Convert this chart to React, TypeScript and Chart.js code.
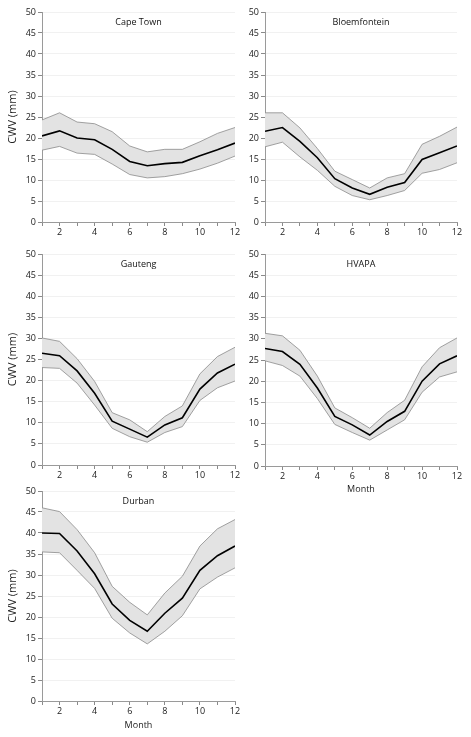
import React, { useEffect, useRef } from "react";
import { Chart, registerables } from "chart.js";

Chart.register(...registerables);

const months = [1, 2, 3, 4, 5, 6, 7, 8, 9, 10, 11, 12];
const yTicks = [0, 5, 10, 15, 20, 25, 30, 35, 40, 45, 50];

const capeTownMean = [20.5, 21.7, 20.0, 19.6, 17.3, 14.4, 13.4, 13.9, 14.2, 15.8, 17.2, 18.8];
const capeTownUpper = [24.3, 26.0, 23.8, 23.4, 21.5, 18.1, 16.7, 17.3, 17.3, 19.1, 21.1, 22.5];
const capeTownLower = [17.1, 18.0, 16.4, 16.1, 13.8, 11.3, 10.5, 10.8, 11.5, 12.6, 14.0, 15.7];

const bloemMean = [21.6, 22.5, 19.2, 15.3, 10.3, 8.1, 6.6, 8.3, 9.4, 14.9, 16.5, 18.1];
const bloemUpper = [26.0, 26.0, 22.4, 17.5, 12.1, 10.1, 8.1, 10.5, 11.5, 18.5, 20.4, 22.6];
const bloemLower = [17.9, 19.0, 15.5, 12.3, 8.5, 6.3, 5.3, 6.3, 7.5, 11.6, 12.5, 14.1];

const gautengMean = [26.5, 25.9, 22.3, 17.0, 10.4, 8.5, 6.6, 9.5, 11.2, 18.0, 21.8, 23.9];
const gautengUpper = [30.1, 29.3, 25.2, 19.8, 12.4, 10.7, 7.9, 11.5, 14.0, 21.6, 25.7, 27.9];
const gautengLower = [23.1, 22.9, 19.4, 14.2, 8.7, 6.7, 5.4, 7.7, 9.1, 15.3, 18.3, 19.9];

const hvapaMean = [27.7, 27.0, 24.0, 18.4, 11.7, 9.7, 7.3, 10.5, 12.9, 20.0, 24.1, 26.0];
const hvapaUpper = [31.3, 30.7, 27.3, 21.2, 13.7, 11.4, 8.9, 12.6, 15.5, 23.4, 27.9, 30.2];
const hvapaLower = [24.8, 23.7, 21.2, 15.9, 9.8, 7.9, 6.1, 8.5, 10.9, 17.4, 21.0, 22.2];

const durbanMean = [40.0, 39.9, 35.7, 30.3, 23.1, 19.2, 16.6, 20.9, 24.5, 31.1, 34.6, 36.9];
const durbanUpper = [46.0, 45.1, 40.8, 35.3, 27.3, 23.5, 20.5, 25.7, 29.7, 36.9, 41.0, 43.2];
const durbanLower = [35.5, 35.3, 31.1, 26.8, 19.7, 16.2, 13.6, 16.6, 20.3, 26.7, 29.5, 31.7];

const FONT = "'Open Sans', 'DejaVu Sans', sans-serif";

type PanelSpec = {
  name: string;
  mean: number[];
  upper: number[];
  lower: number[];
  left: number;
  top: number;
  width: number;
  height: number;
  yw: number;
  xh: number;
  pt: number;
  pr: number;
  showY: boolean;
  showX: boolean;
};

const panels: PanelSpec[] = [
  { name: "Cape Town", mean: capeTownMean, upper: capeTownUpper, lower: capeTownLower,
    left: 0, top: 4, width: 244, height: 236, yw: 42, xh: 18, pt: 8, pr: 9, showY: true, showX: false },
  { name: "Bloemfontein", mean: bloemMean, upper: bloemUpper, lower: bloemLower,
    left: 240, top: 4, width: 225, height: 236, yw: 25, xh: 18, pt: 8, pr: 8, showY: false, showX: false },
  { name: "Gauteng", mean: gautengMean, upper: gautengUpper, lower: gautengLower,
    left: 0, top: 246, width: 244, height: 237, yw: 42, xh: 18, pt: 8, pr: 9, showY: true, showX: false },
  { name: "HVAPA", mean: hvapaMean, upper: hvapaUpper, lower: hvapaLower,
    left: 240, top: 246, width: 225, height: 249, yw: 25, xh: 29, pt: 8, pr: 8, showY: false, showX: true },
  { name: "Durban", mean: durbanMean, upper: durbanUpper, lower: durbanLower,
    left: 0, top: 483, width: 244, height: 248, yw: 42, xh: 30, pt: 8, pr: 9, showY: true, showX: true },
];

function toPoints(arr: number[]) {
  return months.map((m, i) => ({ x: m, y: arr[i] }));
}

function Panel({ spec }: { spec: PanelSpec }) {
  const ref = useRef<HTMLCanvasElement | null>(null);
  useEffect(() => {
    if (!ref.current) return;
    const titlePlugin = {
      id: "panelTitle",
      afterDraw(chart: any) {
        const { ctx, chartArea } = chart;
        ctx.save();
        ctx.font = `9px ${FONT}`;
        ctx.fillStyle = "#111";
        ctx.textAlign = "center";
        ctx.textBaseline = "middle";
        ctx.fillText(spec.name, (chartArea.left + chartArea.right) / 2, chartArea.top + 10);
        ctx.restore();
      },
    };
    const chart = new Chart(ref.current, {
      type: "line",
      data: {
        datasets: [
          {
            label: "mean",
            data: toPoints(spec.mean),
            borderColor: "#000",
            borderWidth: 1.6,
            pointRadius: 0,
            fill: false,
            tension: 0,
          },
          {
            label: "lower",
            data: toPoints(spec.lower),
            borderColor: "#8a8a8a",
            borderWidth: 0.8,
            pointRadius: 0,
            fill: false,
            tension: 0,
          },
          {
            label: "upper",
            data: toPoints(spec.upper),
            borderColor: "#8a8a8a",
            borderWidth: 0.8,
            pointRadius: 0,
            backgroundColor: "#e3e3e3",
            fill: "-1",
            tension: 0,
          },
        ],
      },
      options: {
        animation: false,
        responsive: false,
        events: [],
        layout: { padding: { top: spec.pt, right: spec.pr, left: 0, bottom: 0 } },
        plugins: {
          legend: { display: false },
          tooltip: { enabled: false },
        },
        scales: {
          x: {
            type: "linear",
            min: 1,
            max: 12,
            afterFit: (scale: any) => {
              scale.height = spec.xh;
            },
            ticks: {
              stepSize: 1,
              autoSkip: false,
              maxRotation: 0,
              padding: 1,
              color: "#222",
              font: { family: FONT, size: 9 },
              callback: (v: any) => (Number(v) % 2 === 0 ? String(v) : ""),
            },
            grid: { drawOnChartArea: false, tickLength: 4, color: "#8a8a8a" },
            border: { color: "#9a9a9a", width: 1 },
            title: {
              display: spec.showX,
              text: "Month",
              color: "#222",
              font: { family: FONT, size: 9 },
              padding: { top: 0, bottom: 0 },
            },
          },
          y: {
            type: "linear",
            min: yTicks[0],
            max: yTicks[yTicks.length - 1],
            afterFit: (scale: any) => {
              scale.width = spec.yw;
            },
            afterBuildTicks: (scale: any) => {
              scale.ticks = yTicks.map((v) => ({ value: v }));
            },
            ticks: {
              padding: 2,
              color: "#222",
              font: { family: FONT, size: 9 },
            },
            grid: { color: "#f1f1f1", tickColor: "#8a8a8a", tickLength: 4 },
            border: { color: "#9a9a9a", width: 1 },
            title: {
              display: spec.showY,
              text: "CWV (mm)",
              color: "#222",
              font: { family: FONT, size: 11 },
              padding: { top: 6, bottom: 2 },
            },
          },
        },
      },
      plugins: [titlePlugin],
    } as any);
    return () => chart.destroy();
  }, [spec]);
  return (
    <canvas
      ref={ref}
      width={spec.width}
      height={spec.height}
      style={{
        position: "absolute",
        left: spec.left,
        top: spec.top,
        width: spec.width,
        height: spec.height,
        display: "block",
      }}
    />
  );
}

export default function App() {
  return (
    <div
      style={{
        position: "absolute",
        left: 0,
        top: 0,
        width: 471,
        height: 737,
        background: "#fff",
        overflow: "hidden",
      }}
    >
      {panels.map((p) => (
        <Panel key={p.name} spec={p} />
      ))}
    </div>
  );
}
